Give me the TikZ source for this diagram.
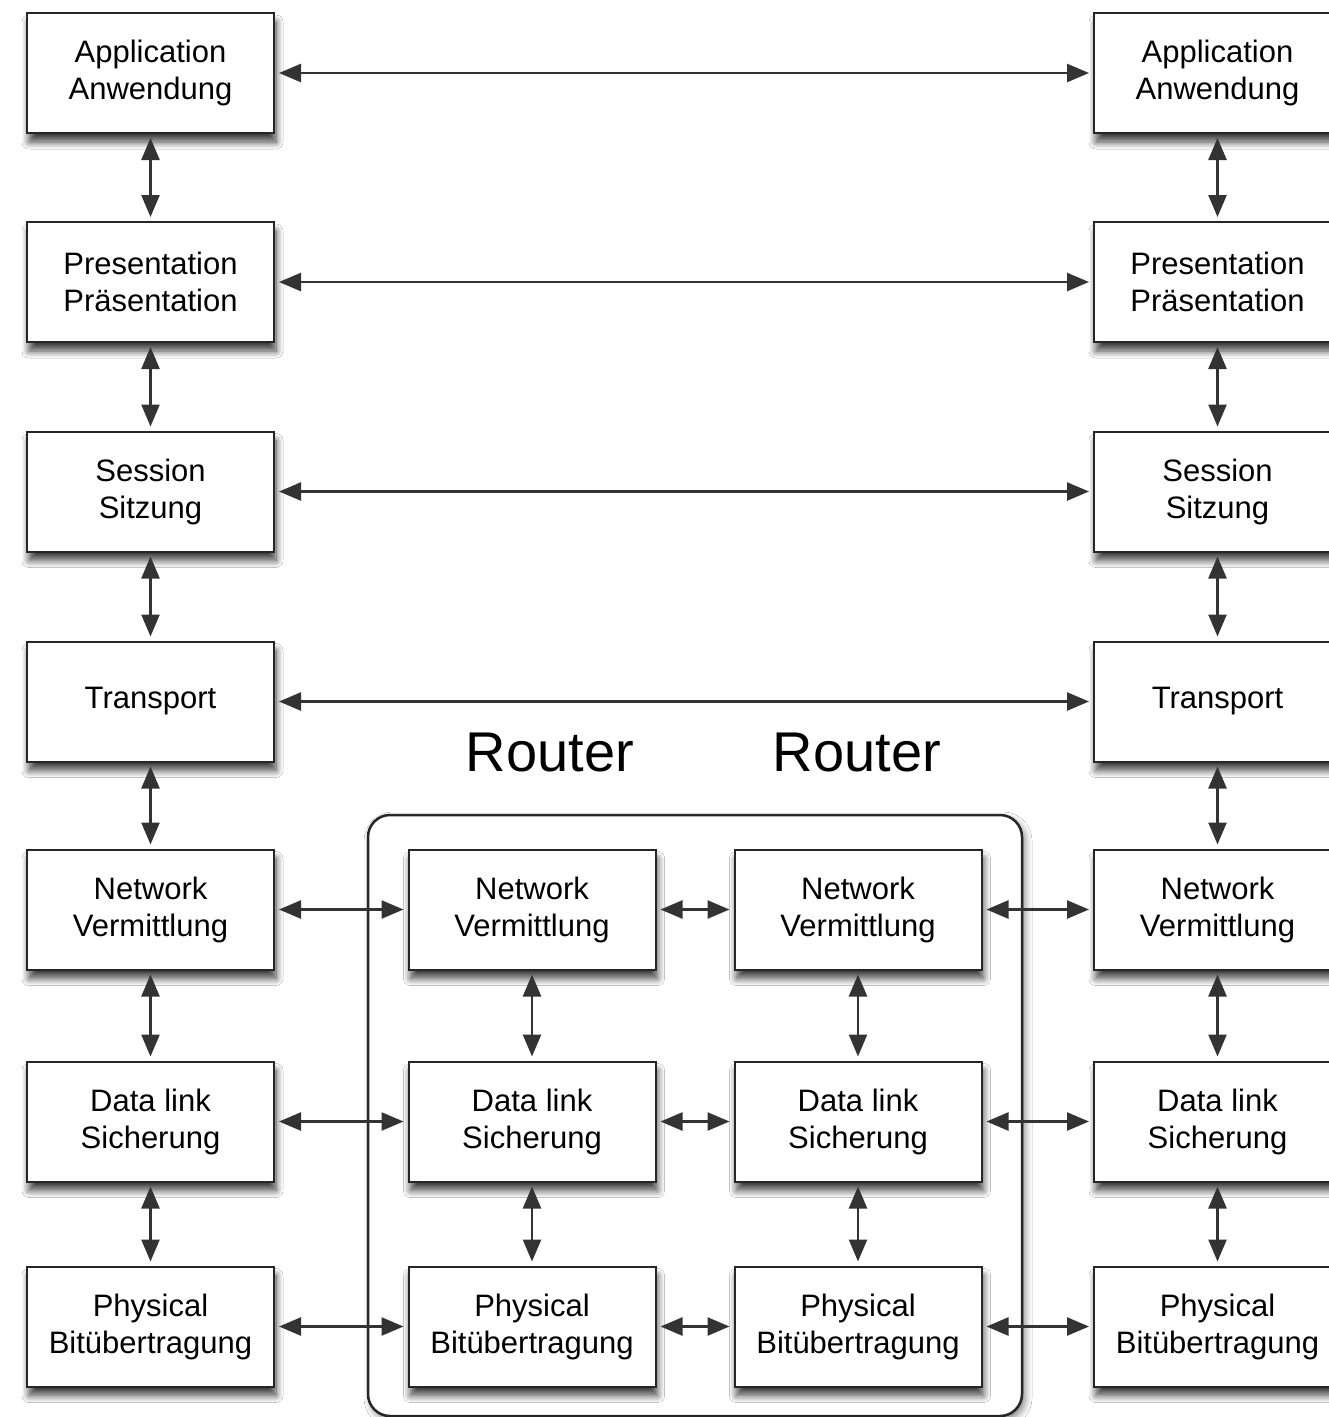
\documentclass[tikz,border=0pt]{standalone}
\usepackage{fontspec}
\setmainfont{Liberation Sans}
\usetikzlibrary{arrows.meta,shadows.blur}

\tikzset{
  layer/.style={draw=black!85, line width=2pt, fill=white,
    minimum width=247pt, minimum height=120pt, align=center,
    font=\fontsize{31}{37}\selectfont,
    blur shadow={shadow xshift=2pt, shadow yshift=-9pt,
      shadow blur radius=7pt, shadow blur steps=10, shadow opacity=75}},
  link/.style={line width=2.5pt, draw=black!80,
    {Triangle[length=22pt,width=18pt]}-{Triangle[length=22pt,width=18pt]},
    shorten >=4pt, shorten <=4pt},
  routerbox/.style={draw=black!85, line width=2.5pt, fill=white,
    rounded corners=22pt,
    blur shadow={shadow xshift=3pt, shadow yshift=-4pt,
      shadow blur radius=7pt, shadow opacity=50}},
  title/.style={font=\fontsize{56}{60}\selectfont}
}

\begin{document}
\begin{tikzpicture}[x=1pt,y=-1pt]
  \clip (0,0) rectangle (1329,1417);
  \fill[white] (0,0) rectangle (1329,1417);

  % router enclosure
  \draw[routerbox] (368,815) rectangle (1022,1416);
  \node[title] (rt1) at (550,752) {Router};
  \node[title] (rt2) at (857,752) {Router};

  % end system stacks
  \foreach \n/\y/\t in {1/73/{Application\\Anwendung},
                        2/282/{Presentation\\Präsentation},
                        3/491.5/{Session\\Sitzung},
                        4/701.5/{Transport},
                        5/909.5/{Network\\Vermittlung},
                        6/1121.5/{Data link\\Sicherung},
                        7/1326.5/{Physical\\Bitübertragung}} {
    \node[layer] (L\n) at (150.5,\y) {\t};
    \node[layer] (R\n) at (1217.5,\y) {\t};
  }

  % router stacks
  \foreach \n/\y/\t in {5/909.5/{Network\\Vermittlung},
                        6/1121.5/{Data link\\Sicherung},
                        7/1326.5/{Physical\\Bitübertragung}} {
    \node[layer] (A\n) at (532,\y) {\t};
    \node[layer] (B\n) at (858,\y) {\t};
  }

  % peer-to-peer links
  \foreach \n in {1,2,3,4} \draw[link] (L\n) -- (R\n);
  \foreach \n in {5,6,7} {
    \draw[link] (L\n) -- (A\n);
    \draw[link] (A\n) -- (B\n);
    \draw[link] (B\n) -- (R\n);
  }

  % vertical links within stacks
  \foreach \a/\b in {1/2,2/3,3/4,4/5,5/6,6/7} {
    \draw[link] (L\a) -- (L\b);
    \draw[link] (R\a) -- (R\b);
  }
  \foreach \a/\b in {5/6,6/7} {
    \draw[link] (A\a) -- (A\b);
    \draw[link] (B\a) -- (B\b);
  }
\end{tikzpicture}
\end{document}
